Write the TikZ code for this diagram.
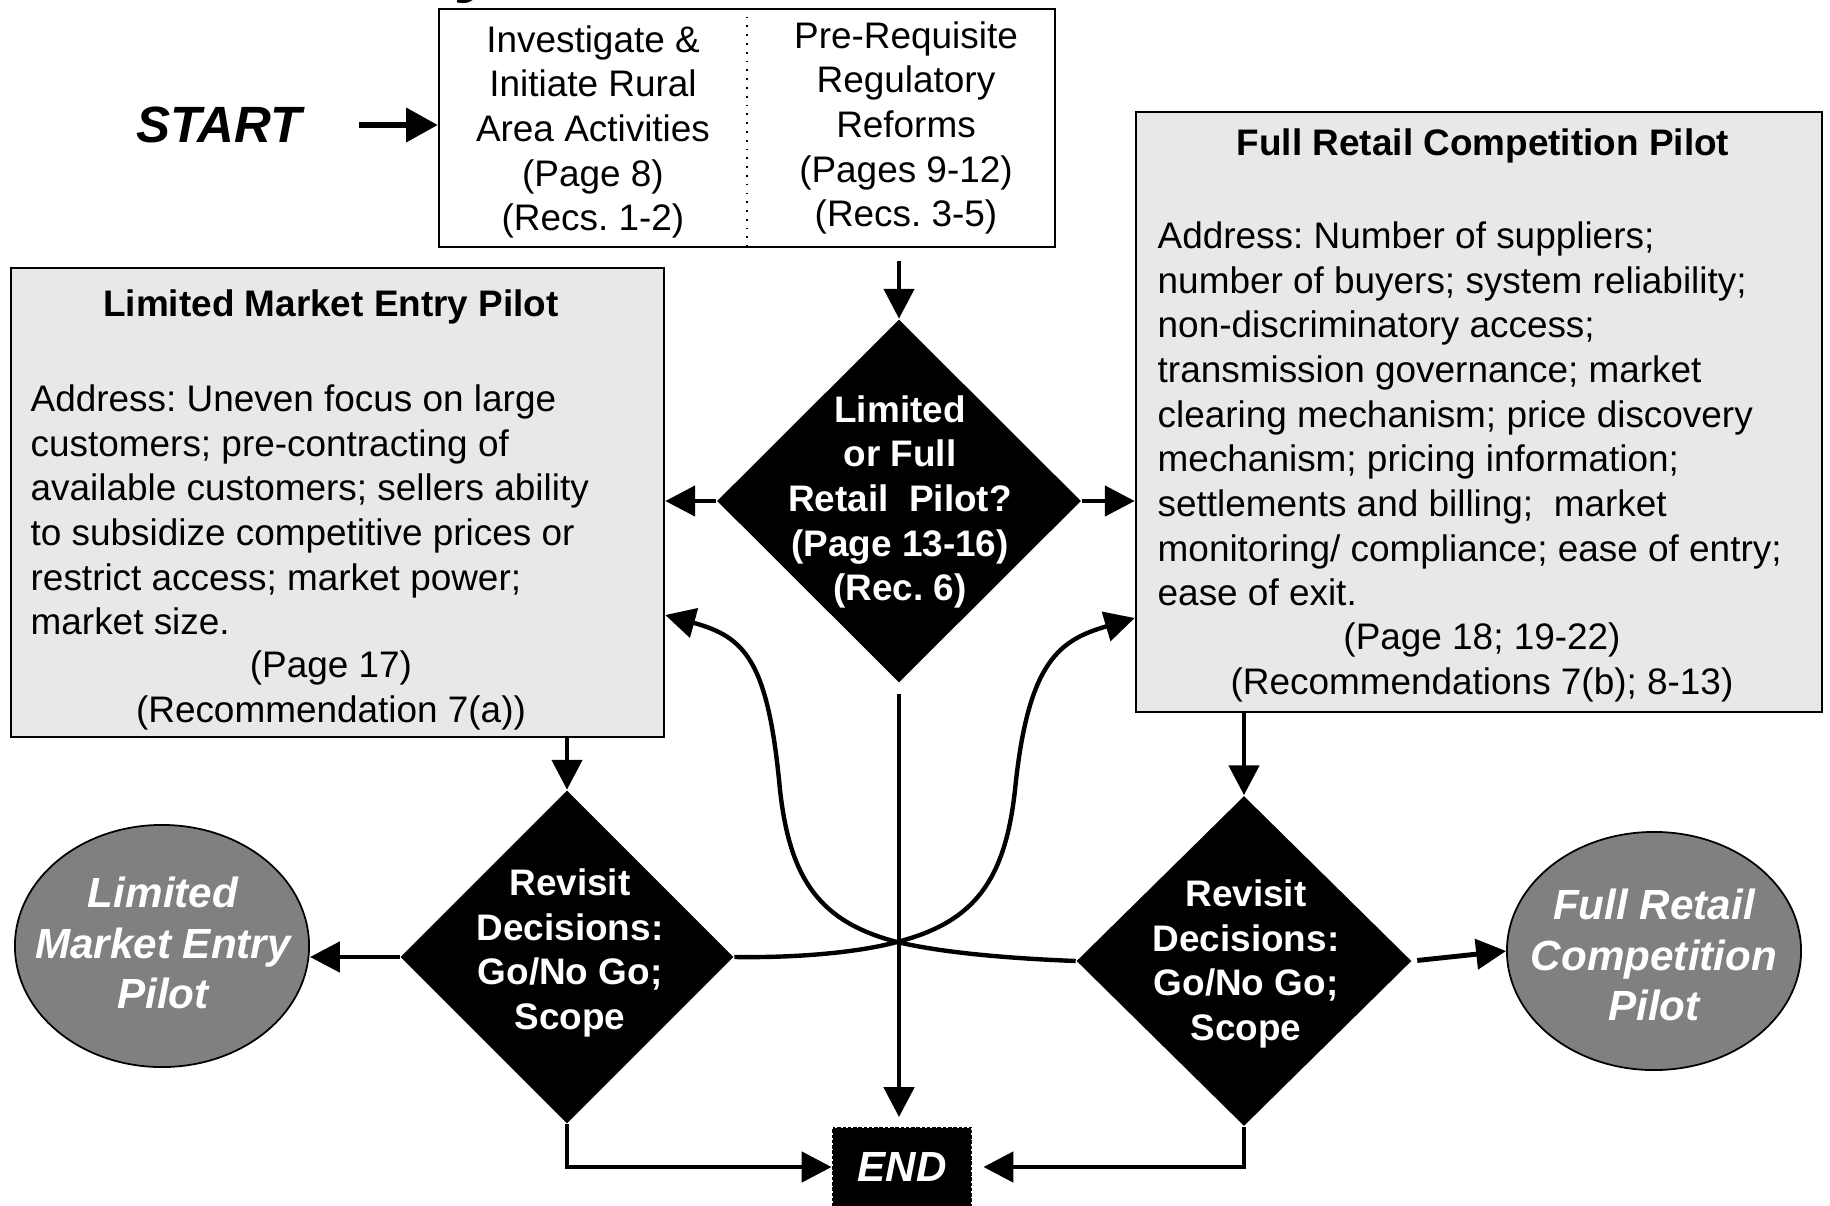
\documentclass[tikz,border=0pt]{standalone}
\usepackage{fontspec}
\setmainfont{Liberation Sans}
\usetikzlibrary{shapes.geometric,arrows.meta}
\definecolor{boxgray}{RGB}{232,232,232}
\definecolor{ovalgray}{RGB}{128,128,128}
\frenchspacing
\begin{document}
\begin{tikzpicture}[x=0.01cm,y=-0.01cm,
  body/.style={font={\fontsize{10.5}{12.7}\selectfont}, inner sep=0pt},
  bodyb/.style={font={\fontsize{10.5}{12.7}\selectfont\bfseries}, inner sep=0pt},
  wtxt/.style={font={\fontsize{10.5}{12.7}\selectfont\bfseries}, text=white, align=center, inner sep=0pt},
  otxt/.style={font={\fontsize{12}{14.3}\selectfont\bfseries\itshape}, text=white, align=center, inner sep=0pt},
  dia/.style={diamond, fill=black, inner sep=0pt},
  oval/.style={ellipse, draw=black, line width=0.5pt, fill=ovalgray, inner sep=0pt},
  infobox/.style={draw=black, line width=0.6pt, fill=boxgray, inner sep=0pt},
  arr/.style={line width=1.4pt, -{Triangle[length=8.5pt,width=8.5pt]}},
  curv/.style={line width=1.25pt, -{Triangle[length=8.5pt,width=8.5pt]}}
]
\useasboundingbox (0,0) rectangle (1830,1206);
\fill[white] (0,0) rectangle (1830,1206);

% fragment of a title above the picture
\node[font={\fontsize{22}{26}\selectfont\bfseries\itshape}, anchor=base, inner sep=0pt] (frag) at (482,-12) {y};

% top box
\node[draw=black, line width=0.6pt, fill=white, minimum width=6.16cm, minimum height=2.38cm, inner sep=0pt] (top) at (747,128) {};
\draw[dotted, line width=0.5pt] (top.north) -- (top.south);
\node[body, align=center] (topl) at (593,132) {Investigate \&\\Initiate Rural\\Area Activities\\(Page 8)\\(Recs. 1-2)};
\node[body, align=center] (topr) at (906,128) {Pre-Requisite\\Regulatory\\Reforms\\(Pages 9-12)\\(Recs. 3-5)};

% start
\node[font={\fontsize{14.5}{17}\selectfont\bfseries\itshape}, inner sep=0pt] (start) at (219,125) {START};
\draw[line width=1.6pt, -{Triangle[length=9pt,width=9.5pt]}, shorten <=0.57cm] (start.east) -- (top.west |- start.east);

% center decision
\node[dia, minimum width=3.64cm, minimum height=3.63cm] (cd) at (899,501) {};
\node[wtxt] (cdt) at (900,502) {Limited\\or Full\\Retail\ \ Pilot?\\(Page 13-16)\\(Rec. 6)};
\draw[arr, shorten <=0.13cm] (cd.north |- top.south) -- (cd.north);

% left box
\node[infobox, minimum width=6.53cm, minimum height=4.69cm] (lb) at (337.5,502.5) {};
\node[bodyb] (lbt) at (331,307) {Limited Market Entry Pilot};
\node[body, align=left, anchor=north west] (lbb) at (30,384) {Address: Uneven focus on large\\customers; pre-contracting of\\available customers; sellers ability\\to subsidize competitive prices or\\restrict access; market power;\\market size.};
\node[body, align=center, anchor=north] (lbr) at (331,650) {(Page 17)\\(Recommendation 7(a))};

% right box
\node[infobox, minimum width=6.86cm, minimum height=6.00cm] (rb) at (1479,412) {};
\node[bodyb] (rbt) at (1483,146) {Full Retail Competition Pilot};
\node[body, align=left, anchor=north west] (rbb) at (1157,221) {Address: Number of suppliers;\\number of buyers; system reliability;\\non-discriminatory access;\\transmission governance; market\\clearing mechanism; price discovery\\mechanism; pricing information;\\settlements and billing;\ \ market\\monitoring/ compliance; ease of entry;\\ease of exit.};
\node[body, align=center, anchor=north] (rbr) at (1482,622) {(Page 18; 19-22)\\(Recommendations 7(b); 8-13)};

\draw[arr] (cd.west) -- (lb.east |- cd.west);
\draw[arr] (cd.east) -- (rb.west |- cd.east);

% lower decisions
\node[dia, minimum width=3.33cm, minimum height=3.33cm] (dl) at (567,957) {};
\node[wtxt] (dlt) at (570,953) {Revisit\\Decisions:\\Go/No Go;\\Scope};
\node[dia, minimum width=3.35cm, minimum height=3.30cm] (dr) at (1244,961) {};
\node[wtxt] (drt) at (1246,964) {Revisit\\Decisions:\\Go/No Go;\\Scope};

\draw[arr] (lb.south -| dl.north) -- (dl.north);
\draw[arr] (rb.south -| dr.north) -- (dr.north);

% ovals
\node[oval, minimum width=2.94cm, minimum height=2.42cm] (el) at (162,946) {};
\node[otxt] (elt) at (163,943) {Limited\\Market Entry\\Pilot};
\node[oval, minimum width=2.94cm, minimum height=2.38cm] (er) at (1654,951) {};
\node[otxt] (ert) at (1654,955) {Full Retail\\Competition\\Pilot};

\draw[arr] (dl.west) -- (el.east |- dl.west);
\draw[arr, shorten <=0.05cm] (dr.east) -- (er.west);

% end
\node[fill=black, draw=white, densely dotted, line width=0.5pt, minimum width=1.39cm, minimum height=0.80cm, inner sep=0pt, text=white, font={\fontsize{12}{14}\selectfont\bfseries\itshape}] (end) at (902,1167) {END};

\draw[arr, shorten <=0.11cm, shorten >=0.09cm] (cd.south) -- (cd.south |- end.north);
\draw[arr] (dl.south) |- (end.west);
\draw[arr, shorten >=0.11cm] (dr.south) |- (end.east);

% crossing feedback curves
\coordinate (rbin) at (rb.west |- 0,618);
\coordinate (lbin) at (lb.east |- 0,615);
\draw[curv] (dl.east) .. controls (800,958) and (860,952) .. (897,942)
  .. controls (975,922) and (1005,880) .. (1015,790)
  .. controls (1028,660) and (1060,640) .. (rbin);
\draw[curv] (dr.west) .. controls (1000,958) and (940,952) .. (897,942)
  .. controls (820,922) and (790,880) .. (780,790)
  .. controls (768,660) and (745,637) .. (lbin);
\end{tikzpicture}
\end{document}
